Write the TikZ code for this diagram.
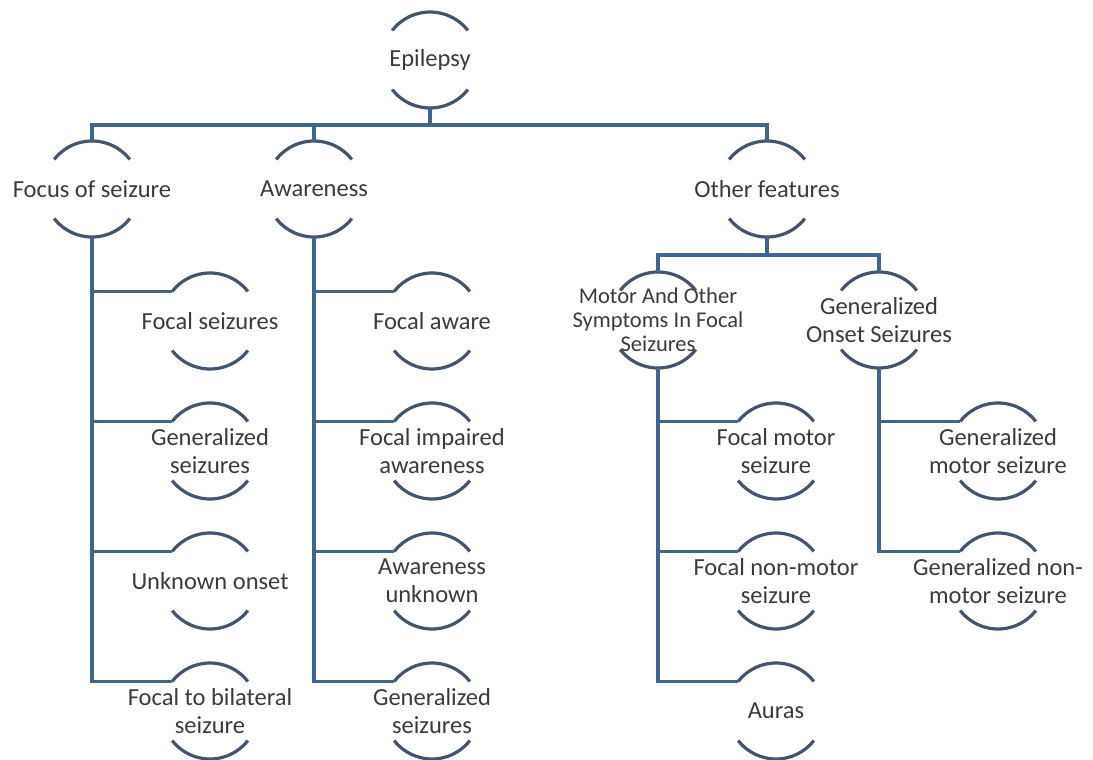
\documentclass[tikz,border=0pt]{standalone}
\usepackage{fontspec}
\setmainfont{Carlito}
\usetikzlibrary{calc}
\definecolor{linkblue}{HTML}{41648F}
\definecolor{arcslate}{HTML}{44546A}
\definecolor{txtgray}{HTML}{3A3A3A}
\tikzset{
  ring/.style     = {circle, inner sep=0pt, outer sep=0pt, minimum size=96pt},
  lbl/.style      = {align=center, text=txtgray, inner sep=0pt,
                     font=\fontsize{24.5}{28}\selectfont},
  lblsmall/.style = {lbl, font=\fontsize{22.5}{24}\selectfont},
  link/.style     = {draw=linkblue, line width=3.2pt},
  rim/.style      = {draw=arcslate, line width=3.2pt},
}

\begin{document}
\begin{tikzpicture}[x=1pt,y=1pt]
\useasboundingbox (0,0) rectangle (1093,-760);

% root and first level
\node[ring,label={[lbl]center:Epilepsy}] (epi) at (430,-60) {};
\node[ring,label={[lbl]center:Focus of seizure}] (focus) at (92,-189) {};
\node[ring,label={[lbl]center:Awareness}] (aware) at (314,-189) {};
\node[ring,label={[lbl]center:Other features}] (other) at (767,-189) {};

% focus of seizure
\node[ring,label={[lbl]center:Focal seizures}] (fs) at (210,-321) {};
\node[ring,label={[lbl]center:{Generalized\\seizures}}] (gs) at (210,-451) {};
\node[ring,label={[lbl]center:Unknown onset}] (uo) at (210,-581) {};
\node[ring,label={[lbl]center:{Focal to bilateral\\seizure}}] (fb) at (210,-711) {};

% awareness
\node[ring,label={[lbl]center:Focal aware}] (fa) at (432,-321) {};
\node[ring,label={[lbl]center:{Focal impaired\\awareness}}] (fi) at (432,-451) {};
\node[ring,label={[lbl]center:{Awareness\\unknown}}] (au) at (432,-581) {};
\node[ring,label={[lbl]center:{Generalized\\seizures}}] (ag) at (432,-711) {};

% other features
\node[ring,label={[lblsmall]center:{Motor And Other\\Symptoms In Focal\\Seizures}}] (mo) at (658,-320) {};
\node[ring,label={[lbl]center:{Generalized\\Onset Seizures}}] (go) at (879,-320) {};
\node[ring,label={[lbl]center:{Focal motor\\seizure}}] (fm) at (776,-451) {};
\node[ring,label={[lbl]center:{Focal non-motor\\seizure}}] (fn) at (776,-581) {};
\node[ring,label={[lbl]center:Auras}] (ar) at (776,-711) {};
\node[ring,label={[lbl]center:{Generalized\\motor seizure}}] (gm) at (998,-451) {};
\node[ring,label={[lbl]center:{Generalized non-\\motor seizure}}] (gn) at (998,-581) {};

% arcs above and below each label
\foreach \n in {epi,focus,aware,other,fs,gs,uo,fb,fa,fi,au,ag,mo,go,fm,fn,ar,gm,gn}{
  \draw[rim] (\n.38) arc[start angle=38,end angle=142,radius=48pt];
  \draw[rim] (\n.-38) arc[start angle=-38,end angle=-142,radius=48pt];
}

% buses
\foreach \c in {focus,aware,other}
  \draw[link] (epi.south) -- ++(0,-17) -| (\c.north);
\foreach \c in {mo,go}
  \draw[link] (other.south) -- ++(0,-18) -| (\c.north);

% trunks
\foreach \p/\c in {focus/fs,focus/gs,focus/uo,focus/fb,
                   aware/fa,aware/fi,aware/au,aware/ag,
                   mo/fm,mo/fn,mo/ar,go/gm,go/gn}
  \draw[link] (\p.south) |- (\c.142);
\end{tikzpicture}
\end{document}
